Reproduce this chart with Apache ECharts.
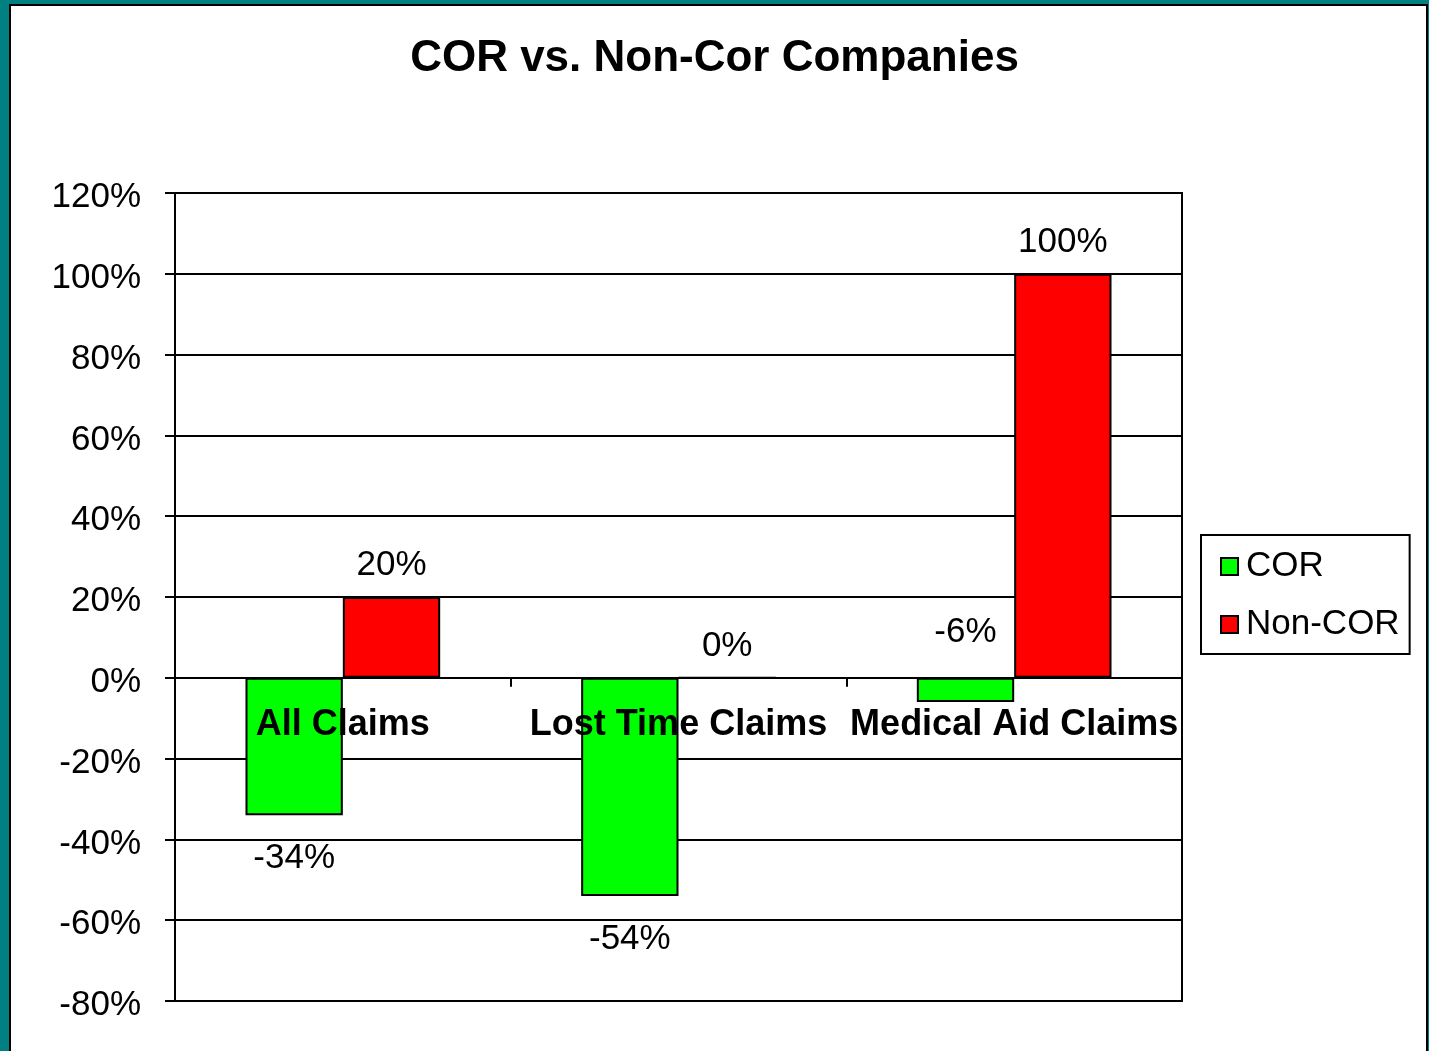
<!DOCTYPE html>
<html>
<head>
<meta charset="utf-8">
<script src="https://cdn.jsdelivr.net/npm/echarts@6/dist/echarts.min.js"></script>
<style>
html,body{margin:0;padding:0;background:#008080;}
#c{width:1429px;height:1051px;}
</style>
</head>
<body>
<div id="c"></div>
<script>
var categories = ['All Claims', 'Lost Time Claims', 'Medical Aid Claims'];
var corValues = [-34, -54, -6];
var nonCorValues = [20, 0, 100];
var yTicks = {min: -80, max: 120, interval: 20};

var FONT = "'Liberation Sans', Arial, sans-serif";

function labelFor(v, special) {
  var item = {value: v};
  if (special) item.label = special;
  return item;
}

var corData = corValues.map(function (v, i) {
  return labelFor(v, i === 2 ? {position: 'top', distance: 28} : null);
});
var nonCorData = nonCorValues.map(function (v, i) {
  return labelFor(v, v === 0 ? {position: 'top', distance: 13} : null);
});

var chart = echarts.init(document.getElementById('c'), null, {renderer: 'canvas'});
chart.setOption({
  backgroundColor: '#008080',
  animation: false,
  textStyle: {fontFamily: FONT},
  graphic: [{
    type: 'rect', z: -10, silent: true,
    shape: {x: 10, y: 5, width: 1417, height: 1060},
    style: {fill: '#ffffff', stroke: '#000000', lineWidth: 2}
  }],
  title: {
    text: 'COR vs. Non-Cor Companies',
    left: 'center', top: 32,
    textStyle: {fontFamily: FONT, fontWeight: 'bold', fontSize: 44, color: '#000'}
  },
  legend: {
    orient: 'vertical',
    left: 1201, top: 535,
    padding: [14, 10, 12, 19],
    borderColor: '#000', borderWidth: 2,
    backgroundColor: '#fff',
    itemGap: 23,
    itemWidth: 17, itemHeight: 17,
    icon: 'rect',
    itemStyle: {borderColor: '#000', borderWidth: 2},
    textStyle: {fontFamily: FONT, fontSize: 35, color: '#000', padding: [0, 0, 0, 3]},
    data: ['COR', 'Non-COR']
  },
  grid: {
    left: 175, right: 247, top: 193, bottom: 50,
    outerBoundsMode: 'none',
    containLabel: false,
    show: true, borderColor: '#000', borderWidth: 2, backgroundColor: 'transparent'
  },
  xAxis: [{
    type: 'category',
    data: categories,
    z: 10,
    axisLine: {onZero: true, lineStyle: {color: '#000', width: 2}},
    axisTick: {show: true, length: 9, lineStyle: {color: '#000', width: 2}},
    axisLabel: {show: false},
    splitLine: {show: false}
  }, {
    type: 'category',
    data: categories,
    position: 'bottom',
    offset: -322,
    z: 10,
    axisLine: {show: false},
    axisTick: {show: false},
    axisLabel: {
      interval: 0, margin: 28,
      fontFamily: FONT, fontWeight: 'bold', fontSize: 36, color: '#000'
    },
    splitLine: {show: false}
  }],
  yAxis: {
    type: 'value',
    min: yTicks.min, max: yTicks.max, interval: yTicks.interval,
    axisLine: {show: true, lineStyle: {color: '#000', width: 2}},
    axisTick: {show: true, length: 10, lineStyle: {color: '#000', width: 2}},
    axisLabel: {
      margin: 34,
      formatter: function (v) { return '{a|' + v + '%}'; },
      rich: {a: {fontFamily: FONT, fontSize: 35, color: '#000', padding: [9, 0, 0, 0]}},
      fontFamily: FONT, fontSize: 35, color: '#000'
    },
    splitLine: {show: true, lineStyle: {color: '#000', width: 2}}
  },
  series: [{
    name: 'COR',
    type: 'bar',
    xAxisIndex: 0,
    data: corData,
    barGap: '0%',
    barCategoryGap: '42%',
    itemStyle: {color: '#00ff00', borderColor: '#000', borderWidth: 2},
    label: {
      show: true, position: 'outside', distance: 26,
      formatter: '{c}%', fontFamily: FONT, fontSize: 35, color: '#000'
    }
  }, {
    name: 'Non-COR',
    type: 'bar',
    xAxisIndex: 0,
    data: nonCorData,
    barGap: '0%',
    barCategoryGap: '42%',
    itemStyle: {color: '#ff0000', borderColor: '#000', borderWidth: 2},
    label: {
      show: true, position: 'outside', distance: 14,
      formatter: '{c}%', fontFamily: FONT, fontSize: 35, color: '#000'
    }
  }]
});
</script>
</body>
</html>
